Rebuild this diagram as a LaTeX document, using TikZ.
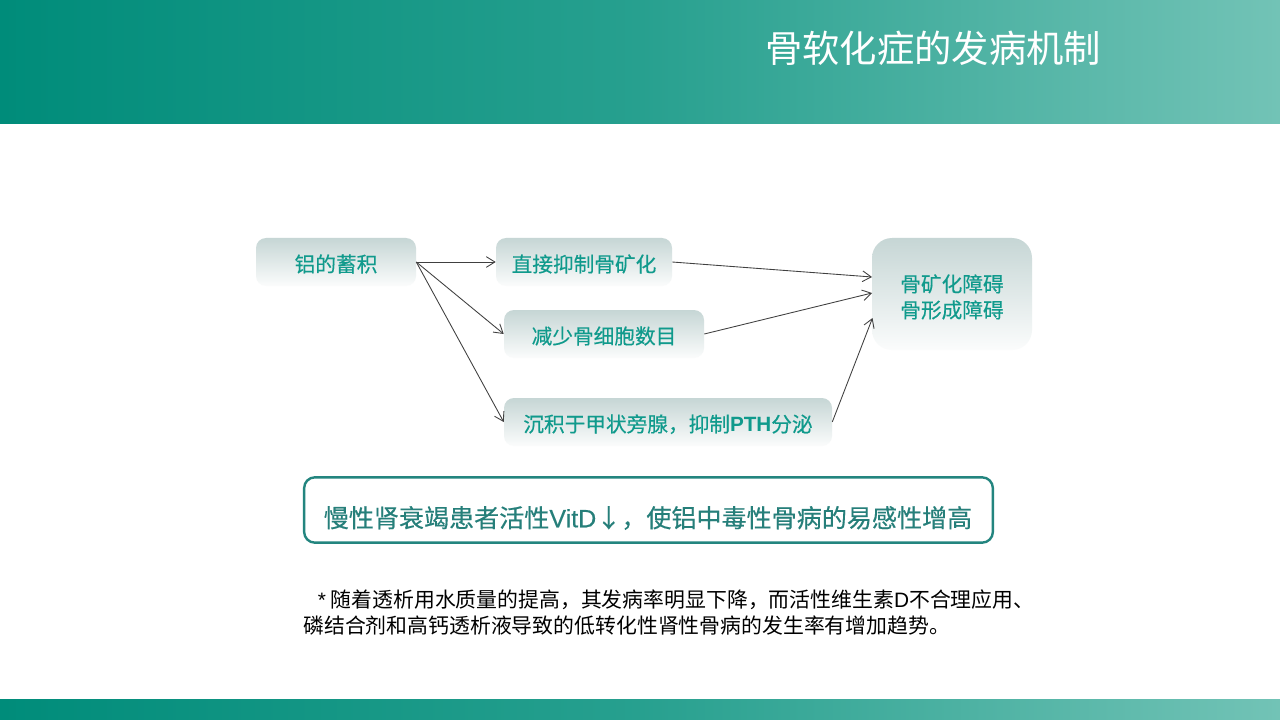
\documentclass[tikz,border=0pt]{standalone}
\usepackage{fontspec}
\setmainfont{Noto Sans CJK SC}
\newfontfamily\lat{Liberation Sans}
\newfontfamily\cjkm[FakeBold=0.35]{Noto Sans CJK SC}
\newfontfamily\latm[FakeBold=0.35]{Liberation Sans}
\usetikzlibrary{arrows.meta}
\definecolor{bandL}{HTML}{008C7A}
\definecolor{bandM}{HTML}{27A08F}
\definecolor{bandR}{HTML}{72C3B6}
\definecolor{boxT}{HTML}{C6D6D5}
\definecolor{boxB}{HTML}{FBFCFC}
\definecolor{teal}{HTML}{109A8C}
\definecolor{frameC}{HTML}{23857F}
\definecolor{wideT}{HTML}{267F7A}
\pgfdeclarehorizontalshading{bandshade}{100bp}{color(0bp)=(bandL); color(25bp)=(bandL); color(50bp)=(bandM); color(75bp)=(bandR); color(100bp)=(bandR)}
\tikzset{
  band/.style={shading=bandshade,draw=none},
  flow/.style={top color=boxT,bottom color=boxB,draw=none,rounded corners=7.5pt,minimum height=36pt,inner sep=0pt,text=teal,font=\cjkm\fontsize{15.5pt}{18pt}\selectfont,align=center},
  flowtext/.style={text height=16pt,text depth=1.2pt},
  flowline/.style={draw=black!75,line width=0.65pt,-{Straight Barb[length=6.5pt,width=8pt,line width=0.65pt]}},
}
\begin{document}
\begin{tikzpicture}[x=0.75pt,y=-0.75pt]
\useasboundingbox (0,0) rectangle (1280,720);
\fill[white] (0,0) rectangle (1280,720);
\shade[band] (0,0) rectangle (1280,124);
\shade[band] (0,699) rectangle (1280,720);
\node[text=white,font=\fontsize{28pt}{30pt}\selectfont,inner sep=0pt] (title) at (933,48) {骨软化症的发病机制};
\node[flow,flowtext,minimum width=120pt] (al) at (336,262) {铝的蓄积};
\node[flow,flowtext,minimum width=132pt] (direct) at (584,262) {直接抑制骨矿化};
\node[flow,flowtext,minimum width=150pt] (reduce) at (604,334) {减少骨细胞数目};
\node[flow,flowtext,minimum width=246pt] (pth) at (668,422) {沉积于甲状旁腺，抑制{\lat\bfseries PTH}分泌};
\node[flow,minimum width=120pt,minimum height=84pt,rounded corners=15pt,font=\cjkm\fontsize{15.5pt}{19.5pt}\selectfont] (result) at (952,294) {\rule{0pt}{17.5pt}骨矿化障碍\\骨形成障碍};
\coordinate (r1) at (872,277);
\coordinate (r2) at (872,293);
\coordinate (r3) at (872.5,318);
\draw[flowline] (al.east) -- (direct.west);
\draw[flowline] (al.east) -- (reduce.west);
\draw[flowline] (al.east) -- (pth.west);
\draw[flowline] (direct.east) -- (r1);
\draw[flowline] (reduce.east) -- (r2);
\draw[flowline] (pth.east) -- (r3);
\node[draw=frameC,line width=1.8pt,rounded corners=8pt,minimum width=516.5pt,minimum height=49pt,inner sep=0pt] (frame) at (648.5,510) {};
\node[text=wideT,inner sep=0pt,font=\cjkm\fontsize{18.8pt}{20pt}\selectfont] (wide) at (648,518) {慢性肾衰竭患者活性{\latm VitD}↓，使铝中毒性骨病的易感性增高};
\node[inner sep=0pt,align=left,anchor=north west,font=\fontsize{15.65pt}{19pt}\selectfont,text=black] (note) at (303,590) {\hspace*{11pt}{\lat *} 随着透析用水质量的提高，其发病率明显下降，而活性维生素{\lat D}不合理应用、\\磷结合剂和高钙透析液导致的低转化性肾性骨病的发生率有增加趋势。};
\end{tikzpicture}
\end{document}
